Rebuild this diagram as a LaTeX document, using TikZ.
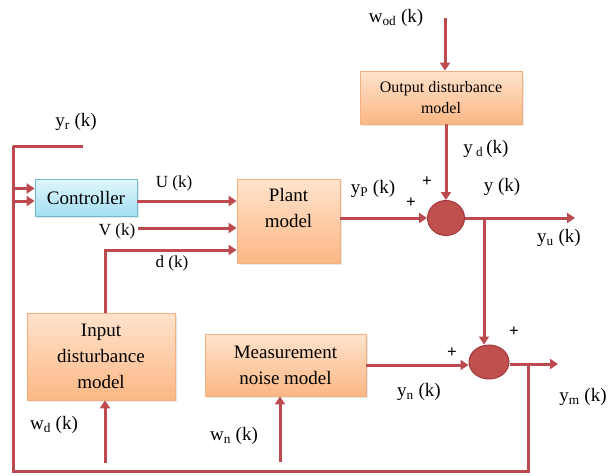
\documentclass[tikz,border=0pt]{standalone}
\usepackage{fontspec}
\setmainfont{Liberation Serif}
\usetikzlibrary{arrows.meta,shapes.geometric,shadows}

\definecolor{wire}{HTML}{BC4A4F}
\definecolor{sumfill}{HTML}{C0504D}
\definecolor{sumedge}{HTML}{A0383A}
\definecolor{orgtop}{HTML}{FFE3CC}
\definecolor{orgbot}{HTML}{FBB784}
\definecolor{orgedge}{HTML}{F4B083}
\definecolor{blutop}{HTML}{E2F6FC}
\definecolor{blubot}{HTML}{A2DEF2}
\definecolor{bluedge}{HTML}{6FB9D2}

\tikzset{
  wire/.style={draw=wire, line width=3pt},
  arr/.style={wire, -{Triangle[length=8pt,width=10pt]}},
  orangebox/.style={draw=orgedge, line width=0.8pt, top color=orgtop, bottom color=orgbot,
    rectangle, inner sep=0pt, drop shadow={shadow xshift=1.5pt, shadow yshift=-1.5pt, opacity=0.18}},
  bluebox/.style={draw=bluedge, line width=0.8pt, top color=blutop, bottom color=blubot,
    rectangle, inner sep=0pt, drop shadow={shadow xshift=1.5pt, shadow yshift=-1.5pt, opacity=0.18}},
  junction/.style={ellipse, draw=sumedge, line width=1pt, fill=sumfill, inner sep=0pt},
  boxtext/.style={align=center, font=\fontsize{19}{26}\selectfont, inner sep=0pt},
  smalltext/.style={align=center, font=\fontsize{16}{21}\selectfont, inner sep=0pt},
  lbl/.style={font=\fontsize{19}{22}\selectfont, inner sep=0pt},
  slbl/.style={font=\fontsize{17}{20}\selectfont, inner sep=0pt},
  plus/.style={font=\bfseries\fontsize{17}{17}\selectfont, inner sep=0pt},
}

\begin{document}
\begin{tikzpicture}[x=1pt,y=-1pt]
\useasboundingbox (0,0) rectangle (608,475);

% blocks
\node[bluebox, minimum width=102pt, minimum height=37pt, boxtext] (ctrl) at (86,197.5) {Controller};
\node[orangebox, minimum width=103pt, minimum height=84pt] (plant) at (288.5,221.5) {};
\node[boxtext] (planttxt) at (288.5,208) {Plant\\model};
\node[orangebox, minimum width=162pt, minimum height=53pt, smalltext] (odm) at (441,97.5) {Output disturbance\\model};
\node[orangebox, minimum width=148pt, minimum height=87pt, boxtext] (idm) at (101,356.5) {Input\\disturbance\\model};
\node[orangebox, minimum width=161pt, minimum height=62pt, boxtext] (mnm) at (285.5,365) {Measurement\\noise model};

% summing junctions
\node[junction, minimum width=37pt, minimum height=35pt] (s1) at (446,218) {};
\node[junction, minimum width=40pt, minimum height=34pt] (s2) at (489,362) {};

% free ends and bends
\coordinate (yrstart) at (83,146);
\coordinate (yrbend) at (13,146);
\coordinate (wodstart) at (445,18);
\coordinate (yuend) at (575,218);
\coordinate (branch) at (484,218);
\coordinate (ymend) at (558,364);
\coordinate (fbtap) at (528,364);
\coordinate (fbbr) at (528,471);
\coordinate (fbbl) at (13,471);
\coordinate (vstart) at (138,228);
\coordinate (dbend) at (105,250);
\coordinate (wdstart) at (105,463);
\coordinate (wnstart) at (280,462);

% reference input
\draw[wire] (yrstart) -- (yrbend);
\draw[arr] (yrbend) |- ([yshift=-3.5pt]ctrl.west);

% controller and plant inputs
\draw[arr] (ctrl.east |- 0,201) -- (plant.west |- 0,201);
\draw[arr] (vstart) -- (plant.west |- vstart);
\draw[arr] ([xshift=4pt]idm.north) -- (dbend) -- (plant.west |- dbend);

% plant output and output disturbance
\draw[arr] (plant.east |- s1.west) -- (s1.west);
\draw[arr] (wodstart) -- (odm.north -| wodstart);
\draw[arr] (odm.south -| s1.north) -- (s1.north);
\draw[arr] (s1.east) -- (yuend);
\draw[arr] (branch) -- (branch |- s2.north);

% measurement noise and measured output
\draw[arr] (mnm.east) -- (s2.west |- mnm.east);
\draw[arr] (s2.east |- ymend) -- (ymend);
\draw[arr] (wnstart) -- (mnm.south -| wnstart);
\draw[arr] (wdstart) -- (idm.south -| wdstart);

% feedback path
\draw[arr] (fbtap) -- (fbbr) -- (fbbl) |- ([yshift=9pt]ctrl.west);

% signal labels
\node[lbl] (lyr) at (76,122) {y\textsubscript{r} (k)};
\node[slbl] (lu) at (174,183) {U (k)};
\node[slbl] (lv) at (117,231) {V (k)};
\node[slbl] (ld) at (172,263) {d (k)};
\node[lbl] (lyp) at (373,189) {y\textsubscript{P} (k)};
\node[lbl] (lwod) at (396,18) {w\textsubscript{od} (k)};
\node[lbl] (lyd) at (486,149) {y\,\textsubscript{d}\,(k)};
\node[lbl] (ly) at (502,187) {y (k)};
\node[lbl] (lyu) at (559,238) {y\textsubscript{u} (k)};
\node[lbl] (lyn) at (419,392) {y\textsubscript{n} (k)};
\node[lbl] (lym) at (583,397) {y\textsubscript{m} (k)};
\node[lbl] (lwd) at (54,425) {w\textsubscript{d} (k)};
\node[lbl] (lwn) at (234,436) {w\textsubscript{n} (k)};

% signs at the junctions
\node[plus] (p1) at (427,182) {+};
\node[plus] (p2) at (411,203) {+};
\node[plus] (p3) at (452,353) {+};
\node[plus] (p4) at (514,332) {+};
\end{tikzpicture}
\end{document}
